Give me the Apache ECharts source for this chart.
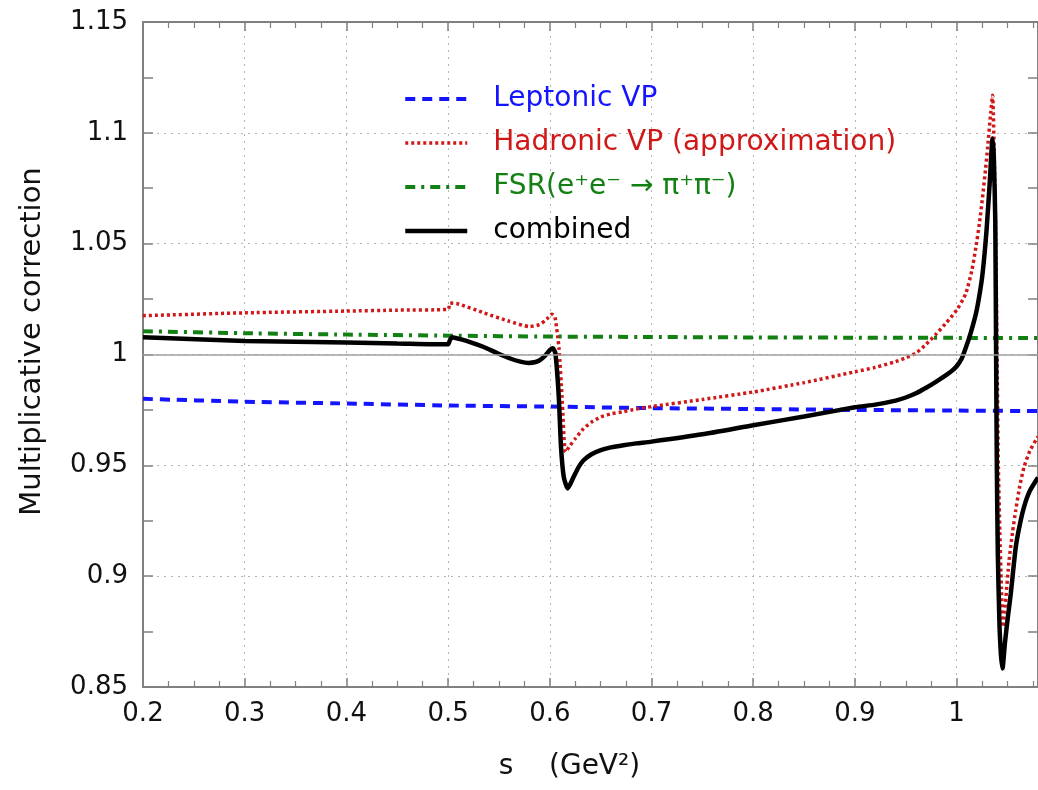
<!DOCTYPE html>
<html>
<head>
<meta charset="utf-8">
<script src="https://cdn.jsdelivr.net/npm/echarts@6/dist/echarts.min.js"></script>
<style>
html,body{margin:0;padding:0;background:#fff;}
#chart{width:1038px;height:790px;}
</style>
</head>
<body>
<div id="chart"></div>
<script>
// ---- data (s in GeV^2, multiplicative correction) ----
const seriesNames = ['Leptonic VP', 'Hadronic VP (approximation)', 'FSR(e\u207Ae\u207B \u2192 \u03C0\u207A\u03C0\u207B)', 'combined'];
const xTicks = [0.2, 0.3, 0.4, 0.5, 0.6, 0.7, 0.8, 0.9, 1.0];
const yTicks = [0.85, 0.9, 0.95, 1.0, 1.05, 1.1, 1.15];

const leptonicVP = [
  [0.2,0.9800],[0.3,0.9787],[0.4,0.9779],[0.5,0.9770],[0.6,0.9765],[0.7,0.9758],
  [0.8,0.9754],[0.9,0.9750],[1.0,0.9747],[1.08,0.9745]
];
const hadronicVP = [
  [0.2,1.0175],[0.3,1.0188],[0.4,1.0196],[0.45,1.0200],[0.5,1.0204],[0.502,1.0232],
  [0.51,1.0228],[0.535,1.0188],[0.56,1.0150],[0.58,1.0126],[0.59,1.0135],[0.597,1.0160],
  [0.602,1.0182],[0.605,1.0170],[0.609,1.0030],[0.612,0.9810],[0.6155,0.9560],[0.62,0.9590],
  [0.625,0.9620],[0.633,0.9665],[0.641,0.9695],[0.65,0.9718],[0.66,0.9732],[0.672,0.9742],
  [0.685,0.9754],[0.7,0.9765],[0.75,0.9797],[0.8,0.9831],[0.85,0.9873],[0.9,0.9922],
  [0.92,0.9942],[0.94,0.9968],[0.95,0.9985],[0.96,1.0006],[0.97,1.0046],[0.98,1.0093],
  [0.99,1.0144],[1.0,1.0200],[1.009,1.0275],[1.015,1.0380],[1.019,1.0486],[1.0225,1.0595],
  [1.0255,1.0710],[1.0285,1.0840],[1.0305,1.0936],[1.0335,1.1090],[1.0353,1.1170],[1.037,1.0900],
  [1.0385,1.0500],[1.040,0.9900],[1.041,0.9500],[1.0425,0.9200],[1.044,0.8950],[1.0457,0.8771],
  [1.048,0.8880],[1.0516,0.9072],[1.055,0.9200],[1.0581,0.9297],[1.062,0.9405],[1.0663,0.9493],
  [1.072,0.9565],[1.08,0.9630]
];
const fsr = [
  [0.2,1.0105],[0.3,1.0096],[0.4,1.0090],[0.5,1.0085],[0.6,1.0081],[0.7,1.0079],
  [0.8,1.0077],[0.9,1.0076],[1.0,1.0075],[1.08,1.0074]
];
const combined = [
  [0.2,1.0078],[0.3,1.0061],[0.4,1.0054],[0.45,1.0050],[0.5,1.0046],[0.5015,1.0062],
  [0.504,1.0078],[0.512,1.0069],[0.523,1.0054],[0.535,1.0034],[0.548,1.0007],[0.561,0.9982],
  [0.571,0.9968],[0.579,0.9962],[0.586,0.9966],[0.591,0.9977],[0.596,0.9998],[0.600,1.0020],
  [0.603,1.0028],[0.6055,1.0005],[0.6088,0.9810],[0.611,0.9583],[0.6137,0.9448],[0.6176,0.9396],
  [0.6234,0.9448],[0.628,0.9490],[0.6332,0.9523],[0.641,0.9550],[0.6495,0.9568],[0.66,0.9581],
  [0.6724,0.9591],[0.685,0.9599],[0.7,0.9607],[0.75,0.9640],[0.8,0.9681],[0.85,0.9720],
  [0.9,0.9762],[0.92,0.9774],[0.94,0.9792],[0.95,0.9806],[0.96,0.9825],[0.97,0.9850],
  [0.98,0.9878],[0.99,0.9908],[0.995,0.9925],[1.0,0.9947],[1.005,0.9982],[1.009,1.0030],
  [1.014,1.0100],[1.019,1.0185],[1.0225,1.0270],[1.0255,1.0365],[1.0294,1.0560],[1.0327,1.0787],
  [1.0353,1.0975],[1.0365,1.0900],[1.038,1.0600],[1.0388,1.0000],[1.0395,0.9500],[1.0405,0.9100],
  [1.042,0.8800],[1.0435,0.8650],[1.0451,0.8584],[1.0475,0.8700],[1.0505,0.8820],[1.0532,0.8920],
  [1.0581,0.9130],[1.062,0.9230],[1.0663,0.9313],[1.072,0.9385],[1.08,0.9445]
];

const colors = ['#1414ff', '#d01818', '#138013', '#000000'];
const dashes = [[10, 7], [3, 3], [10, 6, 3, 6], 'solid'];
const widths = [4, 3.5, 4, 4.5];
const FONT = 'DejaVu Sans';

const chart = echarts.init(document.getElementById('chart'), null, {renderer: 'canvas'});

const gridLine = {show: true, lineStyle: {color: '#b4b4b4', width: 1, type: [2, 5]}};
const axisLineStyle = {color: '#808080', width: 2};

function mkSeries(i, data, z) {
  return {
    name: seriesNames[i], type: 'line', data: data, showSymbol: false, symbol: 'none',
    smooth: 0.2,
    lineStyle: {color: colors[i], width: widths[i], type: dashes[i]},
    itemStyle: {color: colors[i]}, z: z
  };
}

const s0 = mkSeries(0, leptonicVP, 2);
s0.markLine = {
  silent: true, symbol: ['none', 'none'], label: {show: false},
  lineStyle: {color: '#a0a0a0', width: 1.5, type: 'solid'},
  data: [{yAxis: 1}]
};

const option = {
  animation: false,
  backgroundColor: '#ffffff',
  grid: {left: 143, right: -3, top: 22, bottom: 103, containLabel: false},
  legend: {
    orient: 'vertical',
    left: 398,
    top: 78,
    itemWidth: 62,
    itemHeight: 14,
    itemGap: 12,
    itemStyle: {opacity: 0},
    data: seriesNames.map((n, i) => ({
      name: n,
      textStyle: {color: colors[i]},
      itemStyle: {opacity: 0},
      lineStyle: {color: colors[i], width: widths[i], type: dashes[i]}
    })),
    textStyle: {fontFamily: FONT, fontSize: 28, lineHeight: 32, padding: [0, 0, 0, 21]}
  },
  xAxis: [{
    type: 'value', min: 0.2, max: 1.08, interval: 0.1,
    name: 's    (GeV\u00B2)',
    nameLocation: 'middle', nameGap: 66,
    nameTextStyle: {fontFamily: FONT, fontSize: 28, color: '#111', padding: [0, 42, 0, 0]},
    axisLine: {show: true, lineStyle: axisLineStyle},
    axisTick: {show: true, inside: true, length: 9, lineStyle: {color: '#808080', width: 1.5}},
    minorTick: {show: true, splitNumber: 4, length: 6, lineStyle: {color: '#808080', width: 1.2}},
    axisLabel: {
      fontFamily: FONT, fontSize: 26, color: '#111', margin: 14, showMaxLabel: false,
      formatter: v => (xTicks.some(t => Math.abs(t - v) < 1e-6) ? String(+v.toFixed(2)) : '')
    },
    splitLine: gridLine
  }, {
    type: 'value', min: 0.2, max: 1.08, interval: 0.1, position: 'top',
    axisLine: {show: true, lineStyle: axisLineStyle},
    axisTick: {show: true, inside: true, length: 9, lineStyle: {color: '#808080', width: 1.5}},
    minorTick: {show: true, splitNumber: 4, length: 6, lineStyle: {color: '#808080', width: 1.2}},
    axisLabel: {show: false},
    splitLine: {show: false}
  }],
  yAxis: [{
    type: 'value', min: 0.85, max: 1.15, interval: 0.05,
    name: 'Multiplicative correction',
    nameLocation: 'middle', nameGap: 96, nameRotate: 90,
    nameTextStyle: {fontFamily: FONT, fontSize: 29, color: '#111', padding: [0, 0, 0, 26]},
    axisLine: {show: true, lineStyle: axisLineStyle},
    axisTick: {show: true, inside: true, length: 10, lineStyle: {color: '#808080', width: 1.5}},
    minorTick: {show: true, splitNumber: 2, length: 10, lineStyle: {color: '#808080', width: 1.5}},
    axisLabel: {
      fontFamily: FONT, fontSize: 26, color: '#111', margin: 15,
      formatter: v => (yTicks.some(t => Math.abs(t - v) < 1e-6) ? String(+v.toFixed(2)) : '')
    },
    splitLine: gridLine
  }, {
    type: 'value', min: 0.85, max: 1.15, interval: 0.05, position: 'right',
    axisLine: {show: true, lineStyle: axisLineStyle},
    axisTick: {show: true, inside: true, length: 10, lineStyle: {color: '#808080', width: 1.5}},
    minorTick: {show: true, splitNumber: 2, length: 10, lineStyle: {color: '#808080', width: 1.5}},
    axisLabel: {show: false},
    splitLine: {show: false}
  }],
  series: [
    s0,
    mkSeries(1, hadronicVP, 3),
    mkSeries(2, fsr, 3),
    mkSeries(3, combined, 4)
  ]
};
chart.setOption(option);
</script>
</body>
</html>
